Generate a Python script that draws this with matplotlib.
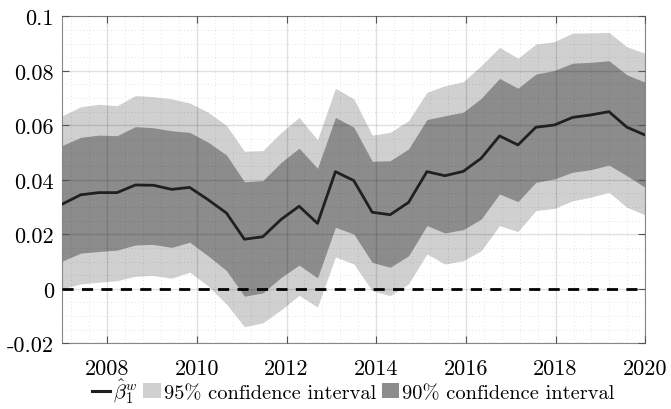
import matplotlib
matplotlib.use('Agg')
import matplotlib.pyplot as plt
from matplotlib.lines import Line2D
from matplotlib.patches import Patch
from matplotlib.ticker import MultipleLocator

plt.rcParams['font.family'] = 'cmr10'
plt.rcParams['mathtext.fontset'] = 'cm'
plt.rcParams['axes.unicode_minus'] = False

years = [2007.0, 2007.41, 2007.81, 2008.22, 2008.63, 2009.03, 2009.44, 2009.84,
         2010.25, 2010.66, 2011.06, 2011.47, 2011.88, 2012.28, 2012.69, 2013.09,
         2013.5, 2013.91, 2014.31, 2014.72, 2015.13, 2015.53, 2015.94, 2016.34,
         2016.75, 2017.16, 2017.56, 2017.97, 2018.38, 2018.78, 2019.19, 2019.59, 2020.0]

beta = [0.0311, 0.0345, 0.0353, 0.0353, 0.0381, 0.0380, 0.0365, 0.0372, 0.0327,
        0.0278, 0.0182, 0.0191, 0.0255, 0.0303, 0.0240, 0.0430, 0.0397, 0.0281,
        0.0272, 0.0317, 0.0430, 0.0415, 0.0431, 0.0479, 0.0561, 0.0528, 0.0593,
        0.0601, 0.0629, 0.0638, 0.0650, 0.0593, 0.0564]

ci90_hi = [0.0526, 0.0556, 0.0564, 0.0562, 0.0595, 0.0591, 0.0580, 0.0574, 0.0538,
           0.0491, 0.0393, 0.0397, 0.0464, 0.0516, 0.0442, 0.0629, 0.0593, 0.0468,
           0.0470, 0.0513, 0.0621, 0.0635, 0.0648, 0.0699, 0.0772, 0.0736, 0.0788,
           0.0801, 0.0828, 0.0831, 0.0837, 0.0785, 0.0758]
ci90_lo = [0.0102, 0.0131, 0.0137, 0.0142, 0.0161, 0.0163, 0.0152, 0.0171, 0.0121,
           0.0067, -0.0027, -0.0015, 0.0042, 0.0087, 0.0040, 0.0226, 0.0201, 0.0097,
           0.0079, 0.0121, 0.0232, 0.0205, 0.0217, 0.0256, 0.0348, 0.0320, 0.0391,
           0.0403, 0.0428, 0.0437, 0.0454, 0.0415, 0.0372]

ci95_hi = [0.0635, 0.0668, 0.0677, 0.0672, 0.0709, 0.0705, 0.0697, 0.0682, 0.0648,
           0.0599, 0.0505, 0.0507, 0.0574, 0.0629, 0.0547, 0.0736, 0.0697, 0.0564,
           0.0574, 0.0617, 0.0721, 0.0745, 0.0760, 0.0819, 0.0886, 0.0846, 0.0898,
           0.0907, 0.0938, 0.0939, 0.0941, 0.0888, 0.0864]
ci95_lo = [0.0000, 0.0018, 0.0024, 0.0030, 0.0046, 0.0049, 0.0039, 0.0061, 0.0011,
           -0.0056, -0.0139, -0.0125, -0.0077, -0.0024, -0.0067, 0.0117, 0.0091, -0.0007,
           -0.0025, 0.0018, 0.0128, 0.0091, 0.0103, 0.0140, 0.0232, 0.0210, 0.0287,
           0.0295, 0.0323, 0.0336, 0.0354, 0.0299, 0.0271]

xticks = [2008, 2010, 2012, 2014, 2016, 2018, 2020]
yticks = [-0.02, 0, 0.02, 0.04, 0.06, 0.08, 0.1]
ylabels = ['-0.02', '0', '0.02', '0.04', '0.06', '0.08', '0.1']

light = '#d0d0d0'
dark = '#8c8c8c'

fig = plt.figure(figsize=(6.71, 4.10), dpi=100)
ax = fig.add_axes([0.0929, 0.1602, 0.8688, 0.7976])

ax.fill_between(years, ci95_lo, ci95_hi, color=light, linewidth=0, zorder=1)
ax.fill_between(years, ci90_lo, ci90_hi, color=dark, linewidth=0, zorder=1.1)
ax.axhline(0, color='black', linestyle=(0, (4, 3)), linewidth=2, zorder=3)
ax.plot(years, beta, color='#202020', linewidth=2, zorder=4)

ax.set_xlim(2007, 2020)
ax.set_ylim(-0.02, 0.1)
ax.set_xticks(xticks)
ax.set_xticklabels([str(x) for x in xticks])
ax.set_yticks(yticks)
ax.set_yticklabels(ylabels)
ax.xaxis.set_minor_locator(MultipleLocator(0.4))
ax.yaxis.set_minor_locator(MultipleLocator(0.005))

ax.set_axisbelow(False)
ax.grid(which='major', color='black', alpha=0.12, linewidth=1)
ax.grid(which='minor', color='black', alpha=0.22, linewidth=0.5, linestyle=(0, (1, 4)))
ax.tick_params(which='major', direction='in', length=5, width=0.8, color='#555555',
               top=True, right=True, labelsize=16, pad=6)
ax.tick_params(axis='x', which='major', pad=11)
ax.tick_params(which='minor', length=0)
for s in ax.spines.values():
    s.set_color('#888888')
    s.set_linewidth(0.8)

handles = [Line2D([], [], color='#202020', linewidth=2.2),
           Patch(facecolor=light, edgecolor='none'),
           Patch(facecolor=dark, edgecolor='none')]
labels = [r'$\hat{\beta}_1^w$', '95% confidence interval', '90% confidence interval']
fig.legend(handles, labels, loc='center', bbox_to_anchor=(0.527, 0.045), ncol=3,
           frameon=False, fontsize=14.7, handlelength=0.85, handleheight=0.7,
           handletextpad=0.15, columnspacing=0.3, borderaxespad=0)

fig.savefig('out.png', dpi=100)
